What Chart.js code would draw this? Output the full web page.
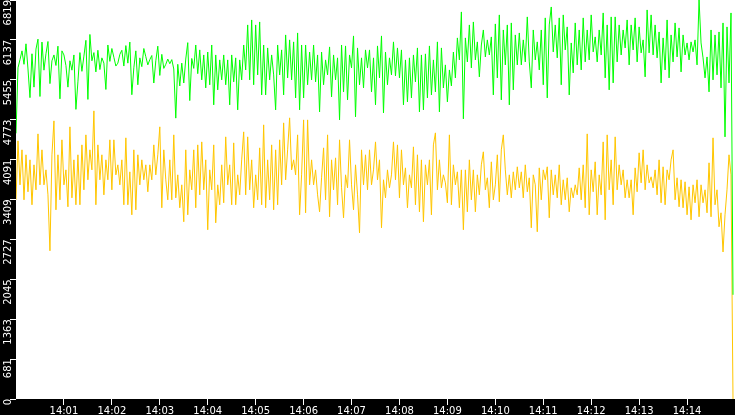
<!DOCTYPE html>
<html><head><meta charset="utf-8">
<script src="https://cdn.jsdelivr.net/npm/chart.js@4.4.1/dist/chart.umd.min.js"></script>
<style>html,body{margin:0;padding:0;background:#000;overflow:hidden}canvas{display:block}</style>
</head><body>
<canvas id="c" width="735" height="415"></canvas>
<script>
// time axis: samples every 2.5 s starting at 14:00:00, window 15 minutes
const sampleSeconds = 2.5;
const windowSeconds = 900;
const xTickLabels = ['14:01','14:02','14:03','14:04','14:05','14:06','14:07','14:08','14:09','14:10','14:11','14:12','14:13','14:14'];
const yTickLabels = ['0','681','1363','2045','2727','3409','4091','4773','5455','6137','6819'];
const yMax = 6819;

const greenSeries = [
4540,5660,5800,5950,5720,6070,5640,5150,5900,5330,
5980,6150,5170,6100,5620,5900,6110,5390,5780,5880,
5700,6030,5130,5950,5880,5700,5330,5780,5620,5880,
4950,5420,5920,5600,5860,6130,5120,6230,5780,5920,
5590,5960,5630,5830,5740,5290,6050,5770,5990,5840,
5690,5740,5890,5960,5690,6040,5740,6100,5200,5660,
5950,5370,5830,5680,5990,5850,5710,5800,5870,5400,
5780,6030,5530,5890,5650,5720,5810,5730,5800,5640,
4800,5720,5350,5740,5400,5810,6090,5100,5820,5650,
6050,5560,5966,5454,5880,5317,5930,5370,6050,5027,
5880,5283,5795,5454,5880,5370,5795,5027,5880,5420,
5830,4941,5795,5454,6050,5624,6393,5454,6478,5370,
6393,5539,6444,5197,6050,5197,6000,5454,5880,5539,
4941,6050,5539,5966,5197,6222,5488,6137,5454,6103,
5146,6256,4941,6050,5146,6050,5370,5930,5454,6050,
5420,5880,4907,5930,5370,5795,5539,6017,5163,5880,
5454,5830,4770,6050,5249,6034,5112,5880,5659,6205,
4822,6000,5370,5830,5317,5966,5659,5966,5249,5830,
5027,6034,5488,6205,4890,5930,5370,5830,5539,6103,
5522,6000,5488,5966,5027,5795,5078,5830,5146,5880,
5420,6000,4907,5880,4941,5898,5146,6034,5197,5795,
5249,6103,4907,6000,5317,5710,5078,5624,5351,5930,
5488,6171,5795,6615,4788,6171,5761,6393,5659,6444,
5795,6103,5505,6050,6307,5846,6137,5880,6188,5197,
6410,5488,6564,5112,6307,5710,6393,5027,6427,5283,
6222,5710,6256,5710,6137,5761,6530,5761,5317,6307,
5795,6103,5624,6307,5370,6513,5146,6393,6700,5932,
6393,5830,6513,5370,6564,5966,6359,5197,6085,5573,
6427,5710,6307,5624,6513,5761,6307,5795,6564,5932,
6188,5761,6307,5880,6598,5488,6393,5283,6530,5402,
6530,5761,6393,5880,6307,6000,6478,5710,6393,5966,
6513,5761,6359,5915,6137,5505,6649,5915,6564,5880,
6393,5830,6273,5402,6171,5624,6478,5488,6222,5761,
6427,5846,6342,5590,6222,5880,6085,5795,6103,5932,
6137,5710,6819,6085,5830,5488,5846,5249,6307,5454,
6222,5539,6273,5317,6427,4480,6359,5402,6598,1781
];

const yellowSeries = [
3404,4412,3660,4258,3404,4173,3541,4087,3319,4002,
3575,4531,3660,4258,3660,3916,3489,2533,4173,4753,
3233,4173,3404,4429,3660,3916,3285,4651,3438,4087,
3319,4173,3319,4343,3575,4514,3746,4258,3916,4924,
3319,4343,3746,4173,3489,4087,3746,4429,3575,4429,
3831,4002,3660,4087,3319,4463,3319,3882,3148,4258,
3233,4173,3660,4087,3746,4002,3541,4002,3746,4343,
3831,4173,4651,3268,4258,3746,3404,4087,3404,4514,
3438,3831,3268,3660,3029,4258,3148,3916,3575,4258,
3268,4343,3489,4394,3575,4087,2892,3916,3575,4343,
3011,3660,3319,4002,3353,4480,3660,4002,3319,4377,
3319,3831,3489,4087,4565,3489,4480,3575,4087,3268,
3831,3404,4292,3319,4685,3268,4087,3404,4343,3233,
4258,3319,4429,3660,4719,3746,4258,4805,3916,4087,
3831,4514,3148,3831,4770,3182,4770,3660,4087,3660,
3916,3489,3199,3780,4292,3404,4514,3114,4087,3575,
4121,3319,4429,3609,3097,3831,3609,4429,3660,3233,
4002,3489,2840,4258,3660,4173,3575,4258,3660,3916,
4394,3746,4087,2926,3746,3438,3916,3609,3831,4394,
3746,4343,3438,4258,3660,3950,3268,3831,3609,4309,
3319,4173,3199,4087,3029,4002,3660,4087,3148,4343,
4548,3575,4087,3609,3831,3694,3353,4514,3319,4002,
3660,3882,3268,3916,2892,3916,3199,4087,3404,3916,
3199,3831,3489,4002,4224,3575,3780,3268,4053,3404,
3660,4173,3370,4258,4514,3916,3489,3831,3438,3882,
3575,3968,3609,3882,3438,4002,3541,3780,2926,3831,
3660,2858,3950,3404,3916,3746,3968,3097,3916,3489,
3831,3438,4002,3319,3746,3404,3780,3199,3609,3438,
3660,3489,3950,3404,4002,3268,4531,3148,3916,3541,
4053,3148,3831,3489,4394,3062,4514,3575,4087,3319,
4480,3575,4002,3660,3916,3438,3746,3438,3746,3148,
3950,3541,4207,3694,4258,3575,4002,3694,3797,3609,
3916,3489,4087,3353,3968,3319,3916,3746,4087,4258,
3404,3780,3285,3746,3268,3712,3148,3626,3062,3660,
3353,3746,3114,3660,3353,3575,3182,4036,3114,4463,
3319,3575,2943,3182,2513,3148,3575,4173,3831,0
];

const toPoints = arr => arr.map((v, i) => ({ x: i * sampleSeconds, y: v }));

const bgPlugin = {
  id: 'plotBg',
  beforeDraw(chart) {
    const { ctx, chartArea: a } = chart;
    ctx.save();
    ctx.fillStyle = '#000';
    ctx.fillRect(0, 0, chart.width, chart.height);
    ctx.fillStyle = '#fff';
    ctx.fillRect(a.left, a.top, a.right - a.left, a.bottom - a.top);
    ctx.restore();
  }
};

Chart.defaults.font.family = 'DejaVu Sans';
Chart.defaults.font.size = 10;
Chart.defaults.color = '#fff';

const noPad = s => { s.paddingTop = 0; s.paddingBottom = 0; s.paddingLeft = 0; s.paddingRight = 0; };

new Chart(document.getElementById('c'), {
  type: 'line',
  data: {
    datasets: [
      { data: toPoints(greenSeries), borderColor: '#00ff00', borderWidth: 1, pointRadius: 0, tension: 0, fill: false },
      { data: toPoints(yellowSeries), borderColor: '#ffc600', borderWidth: 1, pointRadius: 0, tension: 0, fill: false }
    ]
  },
  options: {
    responsive: false,
    animation: false,
    devicePixelRatio: 1,
    layout: { padding: 0 },
    plugins: { legend: { display: false }, tooltip: { enabled: false } },
    scales: {
      x: {
        type: 'linear', min: 0, max: windowSeconds,
        afterBuildTicks: s => { s.ticks = xTickLabels.map((l, k) => ({ value: (k + 1) * 60 })); },
        afterFit: s => { s.height = 16; noPad(s); },
        border: { display: false },
        grid: { drawOnChartArea: false, drawTicks: true, tickLength: 6, color: '#fff', tickColor: '#fff' },
        ticks: { color: '#fff', padding: 0, maxRotation: 0, minRotation: 0, autoSkip: false,
                 callback: (v, i) => xTickLabels[i] }
      },
      y: {
        type: 'linear', min: 0, max: yMax,
        afterBuildTicks: s => { s.ticks = yTickLabels.map((l, k) => ({ value: k * yMax / 10 })); },
        afterFit: s => { s.width = 16; noPad(s); },
        border: { display: false },
        grid: { drawOnChartArea: false, drawTicks: true, tickLength: 6, color: '#fff', tickColor: '#fff' },
        ticks: { color: '#fff', padding: 2, minRotation: 90, maxRotation: 90, autoSkip: false, labelOffset: 0,
                 callback: (v, i) => yTickLabels[i] }
      }
    }
  },
  plugins: [bgPlugin]
});
</script>
</body></html>
